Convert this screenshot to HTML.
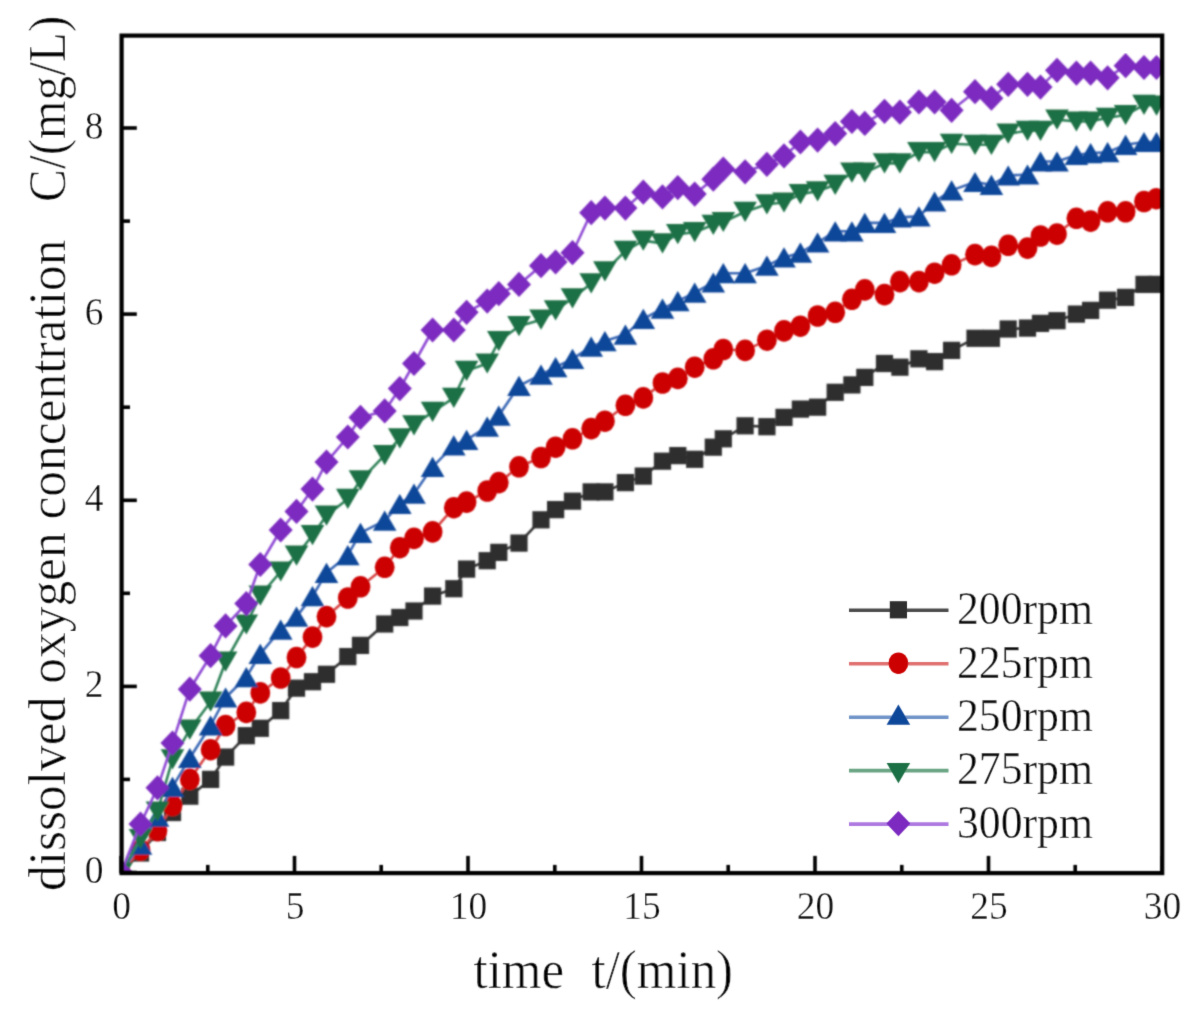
<!DOCTYPE html>
<html><head><meta charset="utf-8"><title>DO concentration chart</title>
<style>
html,body{margin:0;padding:0;background:#fff;}
body{width:1184px;height:1015px;overflow:hidden;}
svg{display:block;}
text{font-family:"Liberation Serif",serif;fill:#000;}
.tl{font-size:37.5px;stroke:#fff;stroke-width:0.3px;}
.lg{font-size:43.7px;stroke:#fff;stroke-width:0.3px;}
.ti{font-size:51px;stroke:#fff;stroke-width:0.45px;}
</style></head>
<body>
<svg width="1184" height="1015" viewBox="0 0 1184 1015">
<defs>
<clipPath id="pa"><rect x="121.6" y="35.6" width="1040.6" height="837.5"/></clipPath>
<filter id="bl" x="0" y="0" width="100%" height="100%"><feConvolveMatrix order="5" kernelMatrix="0.00087 0.00695 0.01388 0.00695 0.00087 0.00695 0.05540 0.11068 0.05540 0.00695 0.01388 0.11068 0.22111 0.11068 0.01388 0.00695 0.05540 0.11068 0.05540 0.00695 0.00087 0.00695 0.01388 0.00695 0.00087" divisor="1" edgeMode="none"/></filter>
<filter id="bt" x="-2%" y="-2%" width="104%" height="104%"><feConvolveMatrix order="5" kernelMatrix="0.00000 0.00003 0.00021 0.00003 0.00000 0.00003 0.01133 0.08373 0.01133 0.00003 0.00021 0.08373 0.61869 0.08373 0.00021 0.00003 0.01133 0.08373 0.01133 0.00003 0.00000 0.00003 0.00021 0.00003 0.00000" divisor="1" edgeMode="none"/></filter>
<filter id="ba" x="-1%" y="-1%" width="102%" height="102%"><feConvolveMatrix order="5" kernelMatrix="0.00009 0.00198 0.00548 0.00198 0.00009 0.00198 0.04220 0.11707 0.04220 0.00198 0.00548 0.11707 0.32480 0.11707 0.00548 0.00198 0.04220 0.11707 0.04220 0.00198 0.00009 0.00198 0.00548 0.00198 0.00009" divisor="1" edgeMode="none"/></filter>
</defs>
<rect width="1184" height="1015" fill="#fff"/>
<g filter="url(#bl)">
<g clip-path="url(#pa)">
<polyline points="121,872.5 140.5,853 157.5,832.5 172.5,812.5 189.8,796.2 210.6,779.4 225.6,757.1 246.3,735.7 260.3,728.3 280.7,710.6 296.5,688.2 312.5,681.7 326.5,674.3 347.8,656.6 360.5,645.4 384.7,624 399.8,617.5 414,611 432.6,596.1 453.8,588.7 466.6,569.1 487.2,560.7 498.8,552.4 519,543.1 541,519.8 555.6,509.6 572.5,501.2 591.2,491.9 604.9,491.9 625.4,482.6 643.3,476.1 662.5,461.2 677.8,455.6 694.7,459.3 713.3,447.2 723.3,438.8 745.1,425.8 766.9,426.7 784,417.4 800.4,409.1 817.6,407.2 835.2,392.3 851.9,384.9 864.8,377.4 884.5,363.5 899.9,367.2 918.9,358.8 934.6,361.6 951.6,350.4 975,338.3 991.4,338.3 1008.2,329 1027.5,328.1 1040.5,323.4 1057,320.7 1076.4,314.1 1090.6,310.4 1107.6,300.2 1125.6,297.4 1144,284.4 1156.5,284.4" fill="none" stroke="#353535" stroke-width="2.6" stroke-linejoin="round"/>
<rect x="112.4" y="863.9" width="17.2" height="17.2" fill="#2f2f2f"/><rect x="131.9" y="844.4" width="17.2" height="17.2" fill="#2f2f2f"/><rect x="148.9" y="823.9" width="17.2" height="17.2" fill="#2f2f2f"/><rect x="163.9" y="803.9" width="17.2" height="17.2" fill="#2f2f2f"/><rect x="181.2" y="787.6" width="17.2" height="17.2" fill="#2f2f2f"/><rect x="202" y="770.8" width="17.2" height="17.2" fill="#2f2f2f"/><rect x="217" y="748.5" width="17.2" height="17.2" fill="#2f2f2f"/><rect x="237.7" y="727.1" width="17.2" height="17.2" fill="#2f2f2f"/><rect x="251.7" y="719.7" width="17.2" height="17.2" fill="#2f2f2f"/><rect x="272.1" y="702" width="17.2" height="17.2" fill="#2f2f2f"/><rect x="287.9" y="679.6" width="17.2" height="17.2" fill="#2f2f2f"/><rect x="303.9" y="673.1" width="17.2" height="17.2" fill="#2f2f2f"/><rect x="317.9" y="665.7" width="17.2" height="17.2" fill="#2f2f2f"/><rect x="339.2" y="648" width="17.2" height="17.2" fill="#2f2f2f"/><rect x="351.9" y="636.8" width="17.2" height="17.2" fill="#2f2f2f"/><rect x="376.1" y="615.4" width="17.2" height="17.2" fill="#2f2f2f"/><rect x="391.2" y="608.9" width="17.2" height="17.2" fill="#2f2f2f"/><rect x="405.4" y="602.4" width="17.2" height="17.2" fill="#2f2f2f"/><rect x="424" y="587.5" width="17.2" height="17.2" fill="#2f2f2f"/><rect x="445.2" y="580.1" width="17.2" height="17.2" fill="#2f2f2f"/><rect x="458" y="560.5" width="17.2" height="17.2" fill="#2f2f2f"/><rect x="478.6" y="552.1" width="17.2" height="17.2" fill="#2f2f2f"/><rect x="490.2" y="543.8" width="17.2" height="17.2" fill="#2f2f2f"/><rect x="510.4" y="534.5" width="17.2" height="17.2" fill="#2f2f2f"/><rect x="532.4" y="511.2" width="17.2" height="17.2" fill="#2f2f2f"/><rect x="547" y="501" width="17.2" height="17.2" fill="#2f2f2f"/><rect x="563.9" y="492.6" width="17.2" height="17.2" fill="#2f2f2f"/><rect x="582.6" y="483.3" width="17.2" height="17.2" fill="#2f2f2f"/><rect x="596.3" y="483.3" width="17.2" height="17.2" fill="#2f2f2f"/><rect x="616.8" y="474" width="17.2" height="17.2" fill="#2f2f2f"/><rect x="634.7" y="467.5" width="17.2" height="17.2" fill="#2f2f2f"/><rect x="653.9" y="452.6" width="17.2" height="17.2" fill="#2f2f2f"/><rect x="669.2" y="447" width="17.2" height="17.2" fill="#2f2f2f"/><rect x="686.1" y="450.7" width="17.2" height="17.2" fill="#2f2f2f"/><rect x="704.7" y="438.6" width="17.2" height="17.2" fill="#2f2f2f"/><rect x="714.7" y="430.2" width="17.2" height="17.2" fill="#2f2f2f"/><rect x="736.5" y="417.2" width="17.2" height="17.2" fill="#2f2f2f"/><rect x="758.3" y="418.1" width="17.2" height="17.2" fill="#2f2f2f"/><rect x="775.4" y="408.8" width="17.2" height="17.2" fill="#2f2f2f"/><rect x="791.8" y="400.5" width="17.2" height="17.2" fill="#2f2f2f"/><rect x="809" y="398.6" width="17.2" height="17.2" fill="#2f2f2f"/><rect x="826.6" y="383.7" width="17.2" height="17.2" fill="#2f2f2f"/><rect x="843.3" y="376.3" width="17.2" height="17.2" fill="#2f2f2f"/><rect x="856.2" y="368.8" width="17.2" height="17.2" fill="#2f2f2f"/><rect x="875.9" y="354.9" width="17.2" height="17.2" fill="#2f2f2f"/><rect x="891.3" y="358.6" width="17.2" height="17.2" fill="#2f2f2f"/><rect x="910.3" y="350.2" width="17.2" height="17.2" fill="#2f2f2f"/><rect x="926" y="353" width="17.2" height="17.2" fill="#2f2f2f"/><rect x="943" y="341.8" width="17.2" height="17.2" fill="#2f2f2f"/><rect x="966.4" y="329.7" width="17.2" height="17.2" fill="#2f2f2f"/><rect x="982.8" y="329.7" width="17.2" height="17.2" fill="#2f2f2f"/><rect x="999.6" y="320.4" width="17.2" height="17.2" fill="#2f2f2f"/><rect x="1018.9" y="319.5" width="17.2" height="17.2" fill="#2f2f2f"/><rect x="1031.9" y="314.8" width="17.2" height="17.2" fill="#2f2f2f"/><rect x="1048.4" y="312.1" width="17.2" height="17.2" fill="#2f2f2f"/><rect x="1067.8" y="305.5" width="17.2" height="17.2" fill="#2f2f2f"/><rect x="1082" y="301.8" width="17.2" height="17.2" fill="#2f2f2f"/><rect x="1099" y="291.6" width="17.2" height="17.2" fill="#2f2f2f"/><rect x="1117" y="288.8" width="17.2" height="17.2" fill="#2f2f2f"/><rect x="1135.4" y="275.8" width="17.2" height="17.2" fill="#2f2f2f"/><rect x="1147.9" y="275.8" width="17.2" height="17.2" fill="#2f2f2f"/>
<polyline points="121,872.5 140.5,850.2 157.5,830.6 172.5,805.5 189.8,779.4 210.6,749.7 225.6,725.5 246.3,712.4 260.3,692.9 280.7,678 296.5,657.5 312.5,637.1 326.5,616.6 347.8,598 360.5,586.8 384.7,567.3 399.8,547.7 414,538.4 432.6,531.9 453.8,507.7 466.6,502.1 487.2,491 498.8,482.6 519,466.8 541,457.5 555.6,447.2 572.5,438.8 591.2,428.6 604.9,421.2 625.4,405.3 643.3,397.9 662.5,383 677.8,378.4 694.7,367.2 713.3,358.8 723.3,349.5 745.1,350.4 766.9,340.2 784,330.9 800.4,326.2 817.6,316 835.2,312.3 851.9,299.3 864.8,289.9 884.5,294.6 899.9,281.6 918.9,281.6 934.6,273.2 951.6,264.8 975,254.6 991.4,256.4 1008.2,245.3 1027.5,248.1 1040.5,236 1057,234.1 1076.4,218.3 1090.6,221.1 1107.6,211.8 1125.6,211.8 1144,201.5 1156.5,198.7" fill="none" stroke="#d84444" stroke-width="2.6" stroke-linejoin="round"/>
<ellipse cx="121" cy="872.5" rx="9.9" ry="10.8" fill="#cc0000"/><ellipse cx="140.5" cy="850.2" rx="9.9" ry="10.8" fill="#cc0000"/><ellipse cx="157.5" cy="830.6" rx="9.9" ry="10.8" fill="#cc0000"/><ellipse cx="172.5" cy="805.5" rx="9.9" ry="10.8" fill="#cc0000"/><ellipse cx="189.8" cy="779.4" rx="9.9" ry="10.8" fill="#cc0000"/><ellipse cx="210.6" cy="749.7" rx="9.9" ry="10.8" fill="#cc0000"/><ellipse cx="225.6" cy="725.5" rx="9.9" ry="10.8" fill="#cc0000"/><ellipse cx="246.3" cy="712.4" rx="9.9" ry="10.8" fill="#cc0000"/><ellipse cx="260.3" cy="692.9" rx="9.9" ry="10.8" fill="#cc0000"/><ellipse cx="280.7" cy="678" rx="9.9" ry="10.8" fill="#cc0000"/><ellipse cx="296.5" cy="657.5" rx="9.9" ry="10.8" fill="#cc0000"/><ellipse cx="312.5" cy="637.1" rx="9.9" ry="10.8" fill="#cc0000"/><ellipse cx="326.5" cy="616.6" rx="9.9" ry="10.8" fill="#cc0000"/><ellipse cx="347.8" cy="598" rx="9.9" ry="10.8" fill="#cc0000"/><ellipse cx="360.5" cy="586.8" rx="9.9" ry="10.8" fill="#cc0000"/><ellipse cx="384.7" cy="567.3" rx="9.9" ry="10.8" fill="#cc0000"/><ellipse cx="399.8" cy="547.7" rx="9.9" ry="10.8" fill="#cc0000"/><ellipse cx="414" cy="538.4" rx="9.9" ry="10.8" fill="#cc0000"/><ellipse cx="432.6" cy="531.9" rx="9.9" ry="10.8" fill="#cc0000"/><ellipse cx="453.8" cy="507.7" rx="9.9" ry="10.8" fill="#cc0000"/><ellipse cx="466.6" cy="502.1" rx="9.9" ry="10.8" fill="#cc0000"/><ellipse cx="487.2" cy="491" rx="9.9" ry="10.8" fill="#cc0000"/><ellipse cx="498.8" cy="482.6" rx="9.9" ry="10.8" fill="#cc0000"/><ellipse cx="519" cy="466.8" rx="9.9" ry="10.8" fill="#cc0000"/><ellipse cx="541" cy="457.5" rx="9.9" ry="10.8" fill="#cc0000"/><ellipse cx="555.6" cy="447.2" rx="9.9" ry="10.8" fill="#cc0000"/><ellipse cx="572.5" cy="438.8" rx="9.9" ry="10.8" fill="#cc0000"/><ellipse cx="591.2" cy="428.6" rx="9.9" ry="10.8" fill="#cc0000"/><ellipse cx="604.9" cy="421.2" rx="9.9" ry="10.8" fill="#cc0000"/><ellipse cx="625.4" cy="405.3" rx="9.9" ry="10.8" fill="#cc0000"/><ellipse cx="643.3" cy="397.9" rx="9.9" ry="10.8" fill="#cc0000"/><ellipse cx="662.5" cy="383" rx="9.9" ry="10.8" fill="#cc0000"/><ellipse cx="677.8" cy="378.4" rx="9.9" ry="10.8" fill="#cc0000"/><ellipse cx="694.7" cy="367.2" rx="9.9" ry="10.8" fill="#cc0000"/><ellipse cx="713.3" cy="358.8" rx="9.9" ry="10.8" fill="#cc0000"/><ellipse cx="723.3" cy="349.5" rx="9.9" ry="10.8" fill="#cc0000"/><ellipse cx="745.1" cy="350.4" rx="9.9" ry="10.8" fill="#cc0000"/><ellipse cx="766.9" cy="340.2" rx="9.9" ry="10.8" fill="#cc0000"/><ellipse cx="784" cy="330.9" rx="9.9" ry="10.8" fill="#cc0000"/><ellipse cx="800.4" cy="326.2" rx="9.9" ry="10.8" fill="#cc0000"/><ellipse cx="817.6" cy="316" rx="9.9" ry="10.8" fill="#cc0000"/><ellipse cx="835.2" cy="312.3" rx="9.9" ry="10.8" fill="#cc0000"/><ellipse cx="851.9" cy="299.3" rx="9.9" ry="10.8" fill="#cc0000"/><ellipse cx="864.8" cy="289.9" rx="9.9" ry="10.8" fill="#cc0000"/><ellipse cx="884.5" cy="294.6" rx="9.9" ry="10.8" fill="#cc0000"/><ellipse cx="899.9" cy="281.6" rx="9.9" ry="10.8" fill="#cc0000"/><ellipse cx="918.9" cy="281.6" rx="9.9" ry="10.8" fill="#cc0000"/><ellipse cx="934.6" cy="273.2" rx="9.9" ry="10.8" fill="#cc0000"/><ellipse cx="951.6" cy="264.8" rx="9.9" ry="10.8" fill="#cc0000"/><ellipse cx="975" cy="254.6" rx="9.9" ry="10.8" fill="#cc0000"/><ellipse cx="991.4" cy="256.4" rx="9.9" ry="10.8" fill="#cc0000"/><ellipse cx="1008.2" cy="245.3" rx="9.9" ry="10.8" fill="#cc0000"/><ellipse cx="1027.5" cy="248.1" rx="9.9" ry="10.8" fill="#cc0000"/><ellipse cx="1040.5" cy="236" rx="9.9" ry="10.8" fill="#cc0000"/><ellipse cx="1057" cy="234.1" rx="9.9" ry="10.8" fill="#cc0000"/><ellipse cx="1076.4" cy="218.3" rx="9.9" ry="10.8" fill="#cc0000"/><ellipse cx="1090.6" cy="221.1" rx="9.9" ry="10.8" fill="#cc0000"/><ellipse cx="1107.6" cy="211.8" rx="9.9" ry="10.8" fill="#cc0000"/><ellipse cx="1125.6" cy="211.8" rx="9.9" ry="10.8" fill="#cc0000"/><ellipse cx="1144" cy="201.5" rx="9.9" ry="10.8" fill="#cc0000"/><ellipse cx="1156.5" cy="198.7" rx="9.9" ry="10.8" fill="#cc0000"/>
<polyline points="121,872.5 140.5,844.6 157.5,816.7 172.5,786.9 189.8,758 210.6,725.5 225.6,697.5 246.3,677.1 260.3,653.8 280.7,629.6 296.5,616.6 312.5,596.1 326.5,572.8 347.8,555.2 360.5,532.8 384.7,520.7 399.8,504 414,493.7 432.6,466.8 453.8,445.4 466.6,439.8 487.2,426.7 498.8,415.6 519,385.8 541,374.6 555.6,367.2 572.5,358.8 591.2,346.7 604.9,341.1 625.4,334.6 643.3,318.8 662.5,308.6 677.8,301.1 694.7,292.7 713.3,282.5 723.3,273.2 745.1,273.2 766.9,265.7 784,257.4 800.4,252.7 817.6,242.5 835.2,231.3 851.9,231.3 864.8,222.9 884.5,222.9 899.9,217.4 918.9,216.4 934.6,201.5 951.6,190.4 975,182 991.4,184.8 1008.2,175.5 1027.5,174.5 1040.5,161.5 1057,161.5 1076.4,155 1090.6,153.1 1107.6,152.2 1125.6,144.8 1144,142 1156.5,142" fill="none" stroke="#3c6ab6" stroke-width="2.6" stroke-linejoin="round"/>
<path d="M121 862.4L132.8 882.6L109.2 882.6Z" fill="#0f4699"/><path d="M140.5 834.5L152.3 854.7L128.7 854.7Z" fill="#0f4699"/><path d="M157.5 806.6L169.3 826.8L145.7 826.8Z" fill="#0f4699"/><path d="M172.5 776.8L184.3 797L160.7 797Z" fill="#0f4699"/><path d="M189.8 747.9L201.6 768.1L178 768.1Z" fill="#0f4699"/><path d="M210.6 715.4L222.4 735.6L198.8 735.6Z" fill="#0f4699"/><path d="M225.6 687.4L237.4 707.6L213.8 707.6Z" fill="#0f4699"/><path d="M246.3 667L258.1 687.2L234.5 687.2Z" fill="#0f4699"/><path d="M260.3 643.7L272.1 663.9L248.5 663.9Z" fill="#0f4699"/><path d="M280.7 619.5L292.5 639.7L268.9 639.7Z" fill="#0f4699"/><path d="M296.5 606.5L308.3 626.7L284.7 626.7Z" fill="#0f4699"/><path d="M312.5 586L324.3 606.2L300.7 606.2Z" fill="#0f4699"/><path d="M326.5 562.7L338.3 582.9L314.7 582.9Z" fill="#0f4699"/><path d="M347.8 545.1L359.6 565.3L336 565.3Z" fill="#0f4699"/><path d="M360.5 522.7L372.3 542.9L348.7 542.9Z" fill="#0f4699"/><path d="M384.7 510.6L396.5 530.8L372.9 530.8Z" fill="#0f4699"/><path d="M399.8 493.9L411.6 514.1L388 514.1Z" fill="#0f4699"/><path d="M414 483.6L425.8 503.8L402.2 503.8Z" fill="#0f4699"/><path d="M432.6 456.7L444.4 476.9L420.8 476.9Z" fill="#0f4699"/><path d="M453.8 435.3L465.6 455.5L442 455.5Z" fill="#0f4699"/><path d="M466.6 429.7L478.4 449.9L454.8 449.9Z" fill="#0f4699"/><path d="M487.2 416.6L499 436.8L475.4 436.8Z" fill="#0f4699"/><path d="M498.8 405.5L510.6 425.7L487 425.7Z" fill="#0f4699"/><path d="M519 375.7L530.8 395.9L507.2 395.9Z" fill="#0f4699"/><path d="M541 364.5L552.8 384.7L529.2 384.7Z" fill="#0f4699"/><path d="M555.6 357.1L567.4 377.3L543.8 377.3Z" fill="#0f4699"/><path d="M572.5 348.7L584.3 368.9L560.7 368.9Z" fill="#0f4699"/><path d="M591.2 336.6L603 356.8L579.4 356.8Z" fill="#0f4699"/><path d="M604.9 331L616.7 351.2L593.1 351.2Z" fill="#0f4699"/><path d="M625.4 324.5L637.2 344.7L613.6 344.7Z" fill="#0f4699"/><path d="M643.3 308.7L655.1 328.9L631.5 328.9Z" fill="#0f4699"/><path d="M662.5 298.5L674.3 318.7L650.7 318.7Z" fill="#0f4699"/><path d="M677.8 291L689.6 311.2L666 311.2Z" fill="#0f4699"/><path d="M694.7 282.6L706.5 302.8L682.9 302.8Z" fill="#0f4699"/><path d="M713.3 272.4L725.1 292.6L701.5 292.6Z" fill="#0f4699"/><path d="M723.3 263.1L735.1 283.3L711.5 283.3Z" fill="#0f4699"/><path d="M745.1 263.1L756.9 283.3L733.3 283.3Z" fill="#0f4699"/><path d="M766.9 255.6L778.7 275.8L755.1 275.8Z" fill="#0f4699"/><path d="M784 247.3L795.8 267.5L772.2 267.5Z" fill="#0f4699"/><path d="M800.4 242.6L812.2 262.8L788.6 262.8Z" fill="#0f4699"/><path d="M817.6 232.4L829.4 252.6L805.8 252.6Z" fill="#0f4699"/><path d="M835.2 221.2L847 241.4L823.4 241.4Z" fill="#0f4699"/><path d="M851.9 221.2L863.7 241.4L840.1 241.4Z" fill="#0f4699"/><path d="M864.8 212.8L876.6 233L853 233Z" fill="#0f4699"/><path d="M884.5 212.8L896.3 233L872.7 233Z" fill="#0f4699"/><path d="M899.9 207.3L911.7 227.5L888.1 227.5Z" fill="#0f4699"/><path d="M918.9 206.3L930.7 226.5L907.1 226.5Z" fill="#0f4699"/><path d="M934.6 191.4L946.4 211.6L922.8 211.6Z" fill="#0f4699"/><path d="M951.6 180.3L963.4 200.5L939.8 200.5Z" fill="#0f4699"/><path d="M975 171.9L986.8 192.1L963.2 192.1Z" fill="#0f4699"/><path d="M991.4 174.7L1003.2 194.9L979.6 194.9Z" fill="#0f4699"/><path d="M1008.2 165.4L1020 185.6L996.4 185.6Z" fill="#0f4699"/><path d="M1027.5 164.4L1039.3 184.6L1015.7 184.6Z" fill="#0f4699"/><path d="M1040.5 151.4L1052.3 171.6L1028.7 171.6Z" fill="#0f4699"/><path d="M1057 151.4L1068.8 171.6L1045.2 171.6Z" fill="#0f4699"/><path d="M1076.4 144.9L1088.2 165.1L1064.6 165.1Z" fill="#0f4699"/><path d="M1090.6 143L1102.4 163.2L1078.8 163.2Z" fill="#0f4699"/><path d="M1107.6 142.1L1119.4 162.3L1095.8 162.3Z" fill="#0f4699"/><path d="M1125.6 134.7L1137.4 154.9L1113.8 154.9Z" fill="#0f4699"/><path d="M1144 131.9L1155.8 152.1L1132.2 152.1Z" fill="#0f4699"/><path d="M1156.5 131.9L1168.3 152.1L1144.7 152.1Z" fill="#0f4699"/>
<polyline points="121,872.5 140.5,839 157.5,811.5 172.5,759.4 189.8,729.7 210.6,701.7 225.6,661.7 246.3,624.5 260.3,595.6 280.7,571.5 296.5,555.6 312.5,535.2 326.5,515.6 347.8,498.9 360.5,480.3 384.7,455.1 399.8,438.4 414,425.3 432.6,411.9 453.8,397.9 466.6,370.9 487.2,363.5 498.8,341.1 519,326.2 541,319.7 555.6,310.4 572.5,298.3 591.2,283.4 604.9,271.3 625.4,250.9 643.3,240.6 662.5,243.4 677.8,234.1 694.7,232.2 713.3,224.8 723.3,222 745.1,211.8 766.9,204.3 784,202.5 800.4,194.1 817.6,191.3 835.2,184.8 851.9,172.7 864.8,172.7 884.5,163.4 899.9,163.4 918.9,152.2 934.6,152.2 951.6,143.8 975,144.8 991.4,144.8 1008.2,133.6 1027.5,130.8 1040.5,130.8 1057,119.6 1076.4,121.5 1090.6,121.5 1107.6,117.8 1125.6,115 1144,104.8 1156.5,105.7" fill="none" stroke="#30835a" stroke-width="2.6" stroke-linejoin="round"/>
<path d="M109.2 862.4L132.8 862.4L121 882.6Z" fill="#1e7045"/><path d="M128.7 828.9L152.3 828.9L140.5 849.1Z" fill="#1e7045"/><path d="M145.7 801.4L169.3 801.4L157.5 821.6Z" fill="#1e7045"/><path d="M160.7 749.3L184.3 749.3L172.5 769.5Z" fill="#1e7045"/><path d="M178 719.6L201.6 719.6L189.8 739.8Z" fill="#1e7045"/><path d="M198.8 691.6L222.4 691.6L210.6 711.8Z" fill="#1e7045"/><path d="M213.8 651.6L237.4 651.6L225.6 671.8Z" fill="#1e7045"/><path d="M234.5 614.4L258.1 614.4L246.3 634.6Z" fill="#1e7045"/><path d="M248.5 585.5L272.1 585.5L260.3 605.7Z" fill="#1e7045"/><path d="M268.9 561.4L292.5 561.4L280.7 581.6Z" fill="#1e7045"/><path d="M284.7 545.5L308.3 545.5L296.5 565.7Z" fill="#1e7045"/><path d="M300.7 525.1L324.3 525.1L312.5 545.3Z" fill="#1e7045"/><path d="M314.7 505.5L338.3 505.5L326.5 525.7Z" fill="#1e7045"/><path d="M336 488.8L359.6 488.8L347.8 509Z" fill="#1e7045"/><path d="M348.7 470.2L372.3 470.2L360.5 490.4Z" fill="#1e7045"/><path d="M372.9 445L396.5 445L384.7 465.2Z" fill="#1e7045"/><path d="M388 428.3L411.6 428.3L399.8 448.5Z" fill="#1e7045"/><path d="M402.2 415.2L425.8 415.2L414 435.4Z" fill="#1e7045"/><path d="M420.8 401.8L444.4 401.8L432.6 422Z" fill="#1e7045"/><path d="M442 387.8L465.6 387.8L453.8 408Z" fill="#1e7045"/><path d="M454.8 360.8L478.4 360.8L466.6 381Z" fill="#1e7045"/><path d="M475.4 353.4L499 353.4L487.2 373.6Z" fill="#1e7045"/><path d="M487 331L510.6 331L498.8 351.2Z" fill="#1e7045"/><path d="M507.2 316.1L530.8 316.1L519 336.3Z" fill="#1e7045"/><path d="M529.2 309.6L552.8 309.6L541 329.8Z" fill="#1e7045"/><path d="M543.8 300.3L567.4 300.3L555.6 320.5Z" fill="#1e7045"/><path d="M560.7 288.2L584.3 288.2L572.5 308.4Z" fill="#1e7045"/><path d="M579.4 273.3L603 273.3L591.2 293.5Z" fill="#1e7045"/><path d="M593.1 261.2L616.7 261.2L604.9 281.4Z" fill="#1e7045"/><path d="M613.6 240.8L637.2 240.8L625.4 261Z" fill="#1e7045"/><path d="M631.5 230.5L655.1 230.5L643.3 250.7Z" fill="#1e7045"/><path d="M650.7 233.3L674.3 233.3L662.5 253.5Z" fill="#1e7045"/><path d="M666 224L689.6 224L677.8 244.2Z" fill="#1e7045"/><path d="M682.9 222.1L706.5 222.1L694.7 242.3Z" fill="#1e7045"/><path d="M701.5 214.7L725.1 214.7L713.3 234.9Z" fill="#1e7045"/><path d="M711.5 211.9L735.1 211.9L723.3 232.1Z" fill="#1e7045"/><path d="M733.3 201.7L756.9 201.7L745.1 221.9Z" fill="#1e7045"/><path d="M755.1 194.2L778.7 194.2L766.9 214.4Z" fill="#1e7045"/><path d="M772.2 192.4L795.8 192.4L784 212.6Z" fill="#1e7045"/><path d="M788.6 184L812.2 184L800.4 204.2Z" fill="#1e7045"/><path d="M805.8 181.2L829.4 181.2L817.6 201.4Z" fill="#1e7045"/><path d="M823.4 174.7L847 174.7L835.2 194.9Z" fill="#1e7045"/><path d="M840.1 162.6L863.7 162.6L851.9 182.8Z" fill="#1e7045"/><path d="M853 162.6L876.6 162.6L864.8 182.8Z" fill="#1e7045"/><path d="M872.7 153.3L896.3 153.3L884.5 173.5Z" fill="#1e7045"/><path d="M888.1 153.3L911.7 153.3L899.9 173.5Z" fill="#1e7045"/><path d="M907.1 142.1L930.7 142.1L918.9 162.3Z" fill="#1e7045"/><path d="M922.8 142.1L946.4 142.1L934.6 162.3Z" fill="#1e7045"/><path d="M939.8 133.7L963.4 133.7L951.6 153.9Z" fill="#1e7045"/><path d="M963.2 134.7L986.8 134.7L975 154.9Z" fill="#1e7045"/><path d="M979.6 134.7L1003.2 134.7L991.4 154.9Z" fill="#1e7045"/><path d="M996.4 123.5L1020 123.5L1008.2 143.7Z" fill="#1e7045"/><path d="M1015.7 120.7L1039.3 120.7L1027.5 140.9Z" fill="#1e7045"/><path d="M1028.7 120.7L1052.3 120.7L1040.5 140.9Z" fill="#1e7045"/><path d="M1045.2 109.5L1068.8 109.5L1057 129.7Z" fill="#1e7045"/><path d="M1064.6 111.4L1088.2 111.4L1076.4 131.6Z" fill="#1e7045"/><path d="M1078.8 111.4L1102.4 111.4L1090.6 131.6Z" fill="#1e7045"/><path d="M1095.8 107.7L1119.4 107.7L1107.6 127.9Z" fill="#1e7045"/><path d="M1113.8 104.9L1137.4 104.9L1125.6 125.1Z" fill="#1e7045"/><path d="M1132.2 94.7L1155.8 94.7L1144 114.9Z" fill="#1e7045"/><path d="M1144.7 95.6L1168.3 95.6L1156.5 115.8Z" fill="#1e7045"/>
<polyline points="121,872.5 140.5,824.1 157.5,787.8 172.5,743.1 189.8,689.2 210.6,655.7 225.6,625.9 246.3,603.6 260.3,564.5 280.7,530 296.5,511.4 312.5,489.1 326.5,462.1 347.8,437 360.5,417.4 384.7,410.9 399.8,388.6 414,363.5 432.6,330 453.8,330 466.6,312.3 487.2,301.1 498.8,293.7 519,284.4 541,265.7 555.6,262 572.5,252.7 591.2,212.7 604.9,208.1 625.4,208.1 643.3,192.2 662.5,196.9 677.8,187.6 694.7,194.1 713.3,179.2 723.3,169 745.1,171.8 766.9,164.3 784,155.9 800.4,142 817.6,140.1 835.2,133.6 851.9,121.5 864.8,123.4 884.5,111.3 899.9,112.2 918.9,102 934.6,102 951.6,110.3 975,91.7 991.4,98.2 1008.2,84.3 1027.5,84.3 1040.5,87.1 1057,70.3 1076.4,73.1 1090.6,73.1 1107.6,77.8 1125.6,65.7 1144,67.5 1156.5,67.5" fill="none" stroke="#904bd4" stroke-width="2.6" stroke-linejoin="round"/>
<path d="M121 859.9L133 872.5L121 885.1L109 872.5Z" fill="#7b2abf"/><path d="M140.5 811.5L152.5 824.1L140.5 836.7L128.5 824.1Z" fill="#7b2abf"/><path d="M157.5 775.2L169.5 787.8L157.5 800.4L145.5 787.8Z" fill="#7b2abf"/><path d="M172.5 730.5L184.5 743.1L172.5 755.7L160.5 743.1Z" fill="#7b2abf"/><path d="M189.8 676.6L201.8 689.2L189.8 701.8L177.8 689.2Z" fill="#7b2abf"/><path d="M210.6 643.1L222.6 655.7L210.6 668.3L198.6 655.7Z" fill="#7b2abf"/><path d="M225.6 613.3L237.6 625.9L225.6 638.5L213.6 625.9Z" fill="#7b2abf"/><path d="M246.3 591L258.3 603.6L246.3 616.2L234.3 603.6Z" fill="#7b2abf"/><path d="M260.3 551.9L272.3 564.5L260.3 577.1L248.3 564.5Z" fill="#7b2abf"/><path d="M280.7 517.4L292.7 530L280.7 542.6L268.7 530Z" fill="#7b2abf"/><path d="M296.5 498.8L308.5 511.4L296.5 524L284.5 511.4Z" fill="#7b2abf"/><path d="M312.5 476.5L324.5 489.1L312.5 501.7L300.5 489.1Z" fill="#7b2abf"/><path d="M326.5 449.5L338.5 462.1L326.5 474.7L314.5 462.1Z" fill="#7b2abf"/><path d="M347.8 424.4L359.8 437L347.8 449.6L335.8 437Z" fill="#7b2abf"/><path d="M360.5 404.8L372.5 417.4L360.5 430L348.5 417.4Z" fill="#7b2abf"/><path d="M384.7 398.3L396.7 410.9L384.7 423.5L372.7 410.9Z" fill="#7b2abf"/><path d="M399.8 376L411.8 388.6L399.8 401.2L387.8 388.6Z" fill="#7b2abf"/><path d="M414 350.9L426 363.5L414 376.1L402 363.5Z" fill="#7b2abf"/><path d="M432.6 317.4L444.6 330L432.6 342.6L420.6 330Z" fill="#7b2abf"/><path d="M453.8 317.4L465.8 330L453.8 342.6L441.8 330Z" fill="#7b2abf"/><path d="M466.6 299.7L478.6 312.3L466.6 324.9L454.6 312.3Z" fill="#7b2abf"/><path d="M487.2 288.5L499.2 301.1L487.2 313.7L475.2 301.1Z" fill="#7b2abf"/><path d="M498.8 281.1L510.8 293.7L498.8 306.3L486.8 293.7Z" fill="#7b2abf"/><path d="M519 271.8L531 284.4L519 297L507 284.4Z" fill="#7b2abf"/><path d="M541 253.1L553 265.7L541 278.3L529 265.7Z" fill="#7b2abf"/><path d="M555.6 249.4L567.6 262L555.6 274.6L543.6 262Z" fill="#7b2abf"/><path d="M572.5 240.1L584.5 252.7L572.5 265.3L560.5 252.7Z" fill="#7b2abf"/><path d="M591.2 200.1L603.2 212.7L591.2 225.3L579.2 212.7Z" fill="#7b2abf"/><path d="M604.9 195.5L616.9 208.1L604.9 220.7L592.9 208.1Z" fill="#7b2abf"/><path d="M625.4 195.5L637.4 208.1L625.4 220.7L613.4 208.1Z" fill="#7b2abf"/><path d="M643.3 179.6L655.3 192.2L643.3 204.8L631.3 192.2Z" fill="#7b2abf"/><path d="M662.5 184.3L674.5 196.9L662.5 209.5L650.5 196.9Z" fill="#7b2abf"/><path d="M677.8 175L689.8 187.6L677.8 200.2L665.8 187.6Z" fill="#7b2abf"/><path d="M694.7 181.5L706.7 194.1L694.7 206.7L682.7 194.1Z" fill="#7b2abf"/><path d="M713.3 166.6L725.3 179.2L713.3 191.8L701.3 179.2Z" fill="#7b2abf"/><path d="M723.3 156.4L735.3 169L723.3 181.6L711.3 169Z" fill="#7b2abf"/><path d="M745.1 159.2L757.1 171.8L745.1 184.4L733.1 171.8Z" fill="#7b2abf"/><path d="M766.9 151.7L778.9 164.3L766.9 176.9L754.9 164.3Z" fill="#7b2abf"/><path d="M784 143.3L796 155.9L784 168.5L772 155.9Z" fill="#7b2abf"/><path d="M800.4 129.4L812.4 142L800.4 154.6L788.4 142Z" fill="#7b2abf"/><path d="M817.6 127.5L829.6 140.1L817.6 152.7L805.6 140.1Z" fill="#7b2abf"/><path d="M835.2 121L847.2 133.6L835.2 146.2L823.2 133.6Z" fill="#7b2abf"/><path d="M851.9 108.9L863.9 121.5L851.9 134.1L839.9 121.5Z" fill="#7b2abf"/><path d="M864.8 110.8L876.8 123.4L864.8 136L852.8 123.4Z" fill="#7b2abf"/><path d="M884.5 98.7L896.5 111.3L884.5 123.9L872.5 111.3Z" fill="#7b2abf"/><path d="M899.9 99.6L911.9 112.2L899.9 124.8L887.9 112.2Z" fill="#7b2abf"/><path d="M918.9 89.4L930.9 102L918.9 114.6L906.9 102Z" fill="#7b2abf"/><path d="M934.6 89.4L946.6 102L934.6 114.6L922.6 102Z" fill="#7b2abf"/><path d="M951.6 97.7L963.6 110.3L951.6 122.9L939.6 110.3Z" fill="#7b2abf"/><path d="M975 79.1L987 91.7L975 104.3L963 91.7Z" fill="#7b2abf"/><path d="M991.4 85.6L1003.4 98.2L991.4 110.8L979.4 98.2Z" fill="#7b2abf"/><path d="M1008.2 71.7L1020.2 84.3L1008.2 96.9L996.2 84.3Z" fill="#7b2abf"/><path d="M1027.5 71.7L1039.5 84.3L1027.5 96.9L1015.5 84.3Z" fill="#7b2abf"/><path d="M1040.5 74.5L1052.5 87.1L1040.5 99.7L1028.5 87.1Z" fill="#7b2abf"/><path d="M1057 57.7L1069 70.3L1057 82.9L1045 70.3Z" fill="#7b2abf"/><path d="M1076.4 60.5L1088.4 73.1L1076.4 85.7L1064.4 73.1Z" fill="#7b2abf"/><path d="M1090.6 60.5L1102.6 73.1L1090.6 85.7L1078.6 73.1Z" fill="#7b2abf"/><path d="M1107.6 65.2L1119.6 77.8L1107.6 90.4L1095.6 77.8Z" fill="#7b2abf"/><path d="M1125.6 53.1L1137.6 65.7L1125.6 78.3L1113.6 65.7Z" fill="#7b2abf"/><path d="M1144 54.9L1156 67.5L1144 80.1L1132 67.5Z" fill="#7b2abf"/><path d="M1156.5 54.9L1168.5 67.5L1156.5 80.1L1144.5 67.5Z" fill="#7b2abf"/>
</g>
</g>
<g filter="url(#ba)">
<rect x="121.6" y="35.6" width="1040.6" height="837.5" fill="none" stroke="#000" stroke-width="4.2"/>
<line x1="121.6" y1="872.5" x2="136.8" y2="872.5" stroke="#000" stroke-width="3.6"/>
<line x1="121.6" y1="779.4" x2="130" y2="779.4" stroke="#000" stroke-width="3.6"/>
<line x1="121.6" y1="686.4" x2="136.8" y2="686.4" stroke="#000" stroke-width="3.6"/>
<line x1="121.6" y1="593.3" x2="130" y2="593.3" stroke="#000" stroke-width="3.6"/>
<line x1="121.6" y1="500.3" x2="136.8" y2="500.3" stroke="#000" stroke-width="3.6"/>
<line x1="121.6" y1="407.2" x2="130" y2="407.2" stroke="#000" stroke-width="3.6"/>
<line x1="121.6" y1="314.1" x2="136.8" y2="314.1" stroke="#000" stroke-width="3.6"/>
<line x1="121.6" y1="221.1" x2="130" y2="221.1" stroke="#000" stroke-width="3.6"/>
<line x1="121.6" y1="128" x2="136.8" y2="128" stroke="#000" stroke-width="3.6"/>
<line x1="121" y1="873.1" x2="121" y2="855.9" stroke="#000" stroke-width="3.6"/>
<line x1="207.8" y1="873.1" x2="207.8" y2="864.9" stroke="#000" stroke-width="3.6"/>
<line x1="294.5" y1="873.1" x2="294.5" y2="855.9" stroke="#000" stroke-width="3.6"/>
<line x1="381.2" y1="873.1" x2="381.2" y2="864.9" stroke="#000" stroke-width="3.6"/>
<line x1="468" y1="873.1" x2="468" y2="855.9" stroke="#000" stroke-width="3.6"/>
<line x1="554.8" y1="873.1" x2="554.8" y2="864.9" stroke="#000" stroke-width="3.6"/>
<line x1="641.5" y1="873.1" x2="641.5" y2="855.9" stroke="#000" stroke-width="3.6"/>
<line x1="728.2" y1="873.1" x2="728.2" y2="864.9" stroke="#000" stroke-width="3.6"/>
<line x1="815" y1="873.1" x2="815" y2="855.9" stroke="#000" stroke-width="3.6"/>
<line x1="901.8" y1="873.1" x2="901.8" y2="864.9" stroke="#000" stroke-width="3.6"/>
<line x1="988.5" y1="873.1" x2="988.5" y2="855.9" stroke="#000" stroke-width="3.6"/>
<line x1="1075.2" y1="873.1" x2="1075.2" y2="864.9" stroke="#000" stroke-width="3.6"/>
<line x1="1162" y1="873.1" x2="1162" y2="855.9" stroke="#000" stroke-width="3.6"/>
</g>
<g filter="url(#bt)">
<text transform="translate(103.5,883.1) scale(1,1.07)" text-anchor="end" class="tl">0</text>
<text transform="translate(103.5,697) scale(1,1.07)" text-anchor="end" class="tl">2</text>
<text transform="translate(103.5,510.9) scale(1,1.07)" text-anchor="end" class="tl">4</text>
<text transform="translate(103.5,324.7) scale(1,1.07)" text-anchor="end" class="tl">6</text>
<text transform="translate(103.5,138.6) scale(1,1.07)" text-anchor="end" class="tl">8</text>
<text transform="translate(121.5,918.6) scale(1,1.08)" text-anchor="middle" class="tl">0</text>
<text transform="translate(295,918.6) scale(1,1.08)" text-anchor="middle" class="tl">5</text>
<text transform="translate(468.5,918.6) scale(1,1.08)" text-anchor="middle" class="tl">10</text>
<text transform="translate(642,918.6) scale(1,1.08)" text-anchor="middle" class="tl">15</text>
<text transform="translate(815.5,918.6) scale(1,1.08)" text-anchor="middle" class="tl">20</text>
<text transform="translate(989,918.6) scale(1,1.08)" text-anchor="middle" class="tl">25</text>
<text transform="translate(1162.5,918.6) scale(1,1.08)" text-anchor="middle" class="tl">30</text>
<line x1="849" y1="610.3" x2="948.5" y2="610.3" stroke="#4c4c4c" stroke-width="3.6"/>
<rect x="889.8" y="601.2" width="17.2" height="17.2" fill="#2f2f2f"/>
<text transform="translate(957.0,624.1) scale(1,1.04)" class="lg">200rpm</text>
<line x1="849" y1="663.8" x2="948.5" y2="663.8" stroke="#e07070" stroke-width="3.6"/>
<ellipse cx="898.4" cy="663.2" rx="9.9" ry="10.8" fill="#cc0000"/>
<text transform="translate(957.0,677.5) scale(1,1.04)" class="lg">225rpm</text>
<line x1="849" y1="717.2" x2="948.5" y2="717.2" stroke="#6f93c8" stroke-width="3.6"/>
<path d="M898.4 704.5L910.2 724.7L886.6 724.7Z" fill="#0f4699"/>
<text transform="translate(957.0,731) scale(1,1.04)" class="lg">250rpm</text>
<line x1="849" y1="770.6" x2="948.5" y2="770.6" stroke="#6aa584" stroke-width="3.6"/>
<path d="M886.6 763L910.2 763L898.4 783.2Z" fill="#1e7045"/>
<text transform="translate(957.0,784.4) scale(1,1.04)" class="lg">275rpm</text>
<line x1="849" y1="824.1" x2="948.5" y2="824.1" stroke="#ad78e0" stroke-width="3.6"/>
<path d="M898.4 811L910.4 823.6L898.4 836.2L886.4 823.6Z" fill="#7b2abf"/>
<text transform="translate(957.0,837.9) scale(1,1.04)" class="lg">300rpm</text>
<text transform="translate(473.5,988) scale(1,1.08)" class="ti">time</text>
<text transform="translate(591.5,988) scale(1,1.08)" class="ti">t/(min)</text>
<text transform="translate(64.8,891) rotate(-90) scale(1,1.03)" class="ti" textLength="651.5" lengthAdjust="spacingAndGlyphs">dissolved oxygen concentration</text>
<text transform="translate(64.8,201.9) rotate(-90) scale(1,1.03)" class="ti" textLength="186.3" lengthAdjust="spacingAndGlyphs">C/(mg/L)</text>
</g>
</svg>
</body></html>
